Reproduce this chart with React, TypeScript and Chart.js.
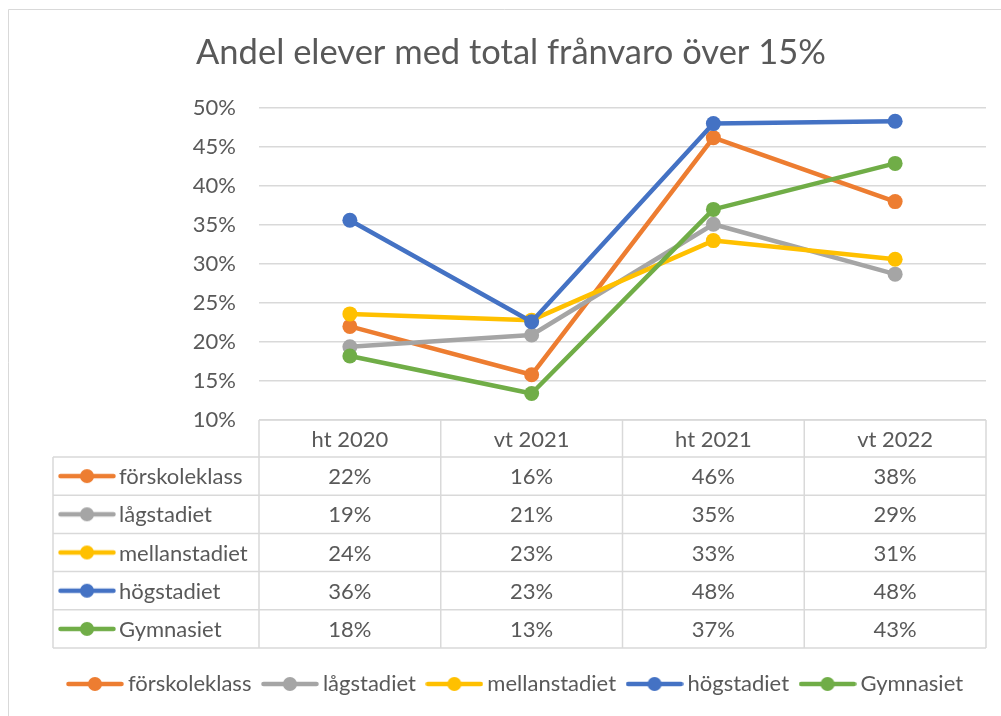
import React, { useEffect, useRef } from "react";
import { Chart, registerables } from "chart.js";

Chart.register(...registerables);

// ---- data ----
const titleText = "Andel elever med total frånvaro över 15%";
const categories = ["ht 2020", "vt 2021", "ht 2021", "vt 2022"];
const seriesNames = ["förskoleklass", "lågstadiet", "mellanstadiet", "högstadiet", "Gymnasiet"];
const forskoleklass = [22.0, 15.8, 46.2, 38.0];
const lagstadiet = [19.4, 20.9, 35.1, 28.7];
const mellanstadiet = [23.6, 22.8, 33.0, 30.6];
const hogstadiet = [35.6, 22.6, 48.0, 48.3];
const gymnasiet = [18.2, 13.4, 37.0, 42.9];
const seriesValues = [forskoleklass, lagstadiet, mellanstadiet, hogstadiet, gymnasiet];
const seriesColors = ["#ED7D31", "#A5A5A5", "#FFC000", "#4472C4", "#70AD47"];
const yMin = 10;
const yMax = 50;
const yStep = 5;

// ---- style ----
const FONT = "Lato";
const FS = 22;
const TITLE_FS = 34.5;
const TEXT = "#595959";
const GRID = "#D9D9D9";
const W = 1001;
const H = 716;
const PLOT_TOP = 108;
const PLOT_BOTTOM = 420;
const PLOT_LEFT = 259;
const PLOT_RIGHT = 986;
const PAD_LEFT = 36;
const LEGEND_CENTER = 684;
const LEGEND_PAD = 16.5;
const LEGEND_SHIFT = 7;
const HEADER_H = 37;
const ROW_H = 38.2;
const TABLE_LEFT = 53;

function makeKey(color: string): HTMLCanvasElement {
  const c = document.createElement("canvas");
  c.width = 58;
  c.height = 16;
  const g = c.getContext("2d")!;
  g.strokeStyle = color;
  g.lineWidth = 4.5;
  g.lineCap = "round";
  g.beginPath();
  g.moveTo(2.5, 8);
  g.lineTo(55.5, 8);
  g.stroke();
  g.fillStyle = color;
  g.beginPath();
  g.arc(29, 8, 7, 0, Math.PI * 2);
  g.fill();
  return c;
}

const frame = {
  id: "frame",
  afterLayout(chart: any) {
    if (chart.legend) {
      chart.legend.left += LEGEND_SHIFT;
      chart.legend.right += LEGEND_SHIFT;
    }
  },
  beforeDraw(chart: any) {
    const ctx = chart.ctx;
    ctx.save();
    ctx.fillStyle = "#FFFFFF";
    ctx.fillRect(0, 0, chart.width, chart.height);
    ctx.strokeStyle = GRID;
    ctx.lineWidth = 1;
    ctx.beginPath();
    ctx.moveTo(8.5, chart.height);
    ctx.lineTo(8.5, 9.5);
    ctx.lineTo(chart.width, 9.5);
    ctx.stroke();
    ctx.restore();
  },
};

function makeTablePlugin(keys: HTMLCanvasElement[]) {
  return {
    id: "dataTable",
    afterDraw(chart: any) {
      const ctx = chart.ctx;
      const xs = chart.scales.x;
      const area = chart.chartArea;
      const top = area.bottom;
      const colW = (area.right - area.left) / categories.length;
      const rowsTop = top + HEADER_H;
      const bottom = rowsTop + ROW_H * seriesNames.length;
      ctx.save();
      ctx.strokeStyle = GRID;
      ctx.lineWidth = 1.5;
      ctx.beginPath();
      ctx.moveTo(area.left, top);
      ctx.lineTo(area.right, top);
      for (let r = 0; r <= seriesNames.length; r++) {
        const y = rowsTop + r * ROW_H;
        ctx.moveTo(TABLE_LEFT, y);
        ctx.lineTo(area.right, y);
      }
      ctx.moveTo(TABLE_LEFT, rowsTop);
      ctx.lineTo(TABLE_LEFT, bottom);
      for (let i = 0; i < categories.length; i++) {
        const x = xs.getPixelForValue(i) - colW / 2;
        ctx.moveTo(x, top);
        ctx.lineTo(x, bottom);
      }
      ctx.moveTo(area.right, top);
      ctx.lineTo(area.right, bottom);
      ctx.stroke();

      ctx.fillStyle = TEXT;
      ctx.font = `${FS}px ${FONT}`;
      ctx.textBaseline = "middle";
      ctx.textAlign = "center";
      categories.forEach((c, i) => {
        ctx.fillText(c, xs.getPixelForValue(i), top + HEADER_H / 2 + 1);
      });
      seriesNames.forEach((name, r) => {
        const cy = rowsTop + r * ROW_H + ROW_H / 2 + 1;
        const key = keys[r];
        ctx.drawImage(key, TABLE_LEFT + 5, cy - 1 - key.height / 2);
        ctx.textAlign = "left";
        ctx.fillText(name, TABLE_LEFT + 66, cy);
        ctx.textAlign = "center";
        seriesValues[r].forEach((v, i) => {
          ctx.fillText(Math.round(v) + "%", xs.getPixelForValue(i), cy);
        });
      });
      ctx.restore();
    },
  };
}

export default function App() {
  const ref = useRef<HTMLCanvasElement | null>(null);

  useEffect(() => {
    if (!ref.current) return;
    const keys = seriesColors.map((c) => makeKey(c));
    const itemH = FS;
    const padBottom = H - 10 - itemH / 2 - LEGEND_CENTER;
    const legendH = itemH + LEGEND_PAD + 10;
    const xAxisH = H - padBottom - legendH - PLOT_BOTTOM;
    const titleLH = TITLE_FS * 1.2;
    const titlePadTop = 53 - titleLH / 2;
    const titlePadBottom = PLOT_TOP - titlePadTop - titleLH;

    const chart = new Chart(ref.current, {
      type: "line",
      data: {
        labels: categories,
        datasets: seriesNames.map((name, i) => ({
          label: name,
          data: seriesValues[i],
          borderColor: seriesColors[i],
          backgroundColor: seriesColors[i],
          pointBackgroundColor: seriesColors[i],
          pointBorderWidth: 0,
          pointRadius: 7.5,
          borderWidth: 4.5,
          borderCapStyle: "round",
          borderJoinStyle: "round",
          tension: 0,
          fill: false,
          order: seriesNames.length - i,
        })),
      },
      options: {
        responsive: false,
        animation: false,
        events: [],
        layout: {
          padding: { left: PAD_LEFT, right: W - PLOT_RIGHT, top: 0, bottom: padBottom },
        },
        plugins: {
          title: {
            display: true,
            text: titleText,
            color: TEXT,
            font: { family: FONT, size: TITLE_FS, weight: "normal" },
            padding: { top: titlePadTop, bottom: titlePadBottom },
          },
          legend: {
            display: true,
            position: "bottom",
            labels: {
              usePointStyle: true,
              pointStyleWidth: 44,
              padding: LEGEND_PAD,
              color: TEXT,
              font: { family: FONT, size: FS },
              sort: (a: any, b: any) => a.datasetIndex - b.datasetIndex,
              generateLabels: (ch: any) => {
                const items = (Chart as any).defaults.plugins.legend.labels.generateLabels(ch);
                return items.map((it: any) => ({ ...it, pointStyle: keys[it.datasetIndex] }));
              },
            },
          },
          tooltip: { enabled: false },
        },
        scales: {
          x: {
            type: "category",
            offset: true,
            grid: { display: false },
            border: { display: false },
            ticks: { display: false },
            afterFit: (s: any) => {
              s.height = xAxisH;
            },
          },
          y: {
            min: yMin,
            max: yMax,
            border: { display: false },
            grid: { color: GRID, lineWidth: 1.5, drawTicks: false },
            ticks: {
              stepSize: yStep,
              padding: PLOT_LEFT - 236,
              color: TEXT,
              font: { family: FONT, size: FS },
              callback: (v: any) => v + "%",
            },
            afterFit: (s: any) => {
              s.width = PLOT_LEFT - PAD_LEFT;
            },
          },
        },
      },
      plugins: [frame, makeTablePlugin(keys)],
    });
    return () => chart.destroy();
  }, []);

  return (
    <div style={{ position: "absolute", left: 0, top: 0, width: W, height: H, overflow: "hidden" }}>
      <canvas ref={ref} width={W} height={H} style={{ display: "block" }} />
    </div>
  );
}
